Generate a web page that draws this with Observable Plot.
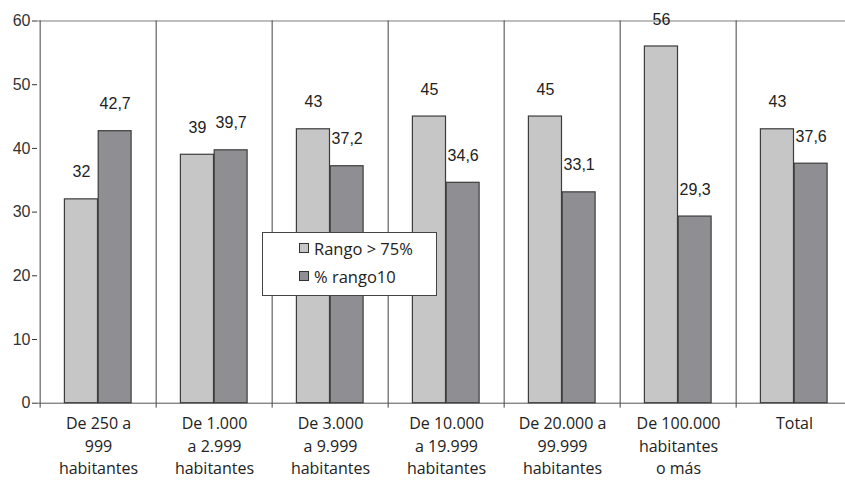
<!DOCTYPE html>
<html>
<head>
<meta charset="utf-8">
<script src="https://cdn.jsdelivr.net/npm/d3@7"></script>
<script src="https://cdn.jsdelivr.net/npm/@observablehq/plot@0.6"></script>
<style>
  body { margin: 0; background: #fff; }
  #wrap { position: relative; width: 845px; height: 481px; overflow: hidden; background: #fff; }
  #legend { position: absolute; left: 262px; top: 232px; width: 175px; height: 64px; box-sizing: border-box;
            border: 1px solid #444; background: #fff; font-family: "Open Sans", Lato, sans-serif; font-size: 16.5px; color: #222; }
  .item { position: absolute; left: 36px; display: flex; align-items: center; height: 14px; }
  .sw { width: 8px; height: 8px; border: 1px solid #333; margin-right: 5px; }
</style>
</head>
<body>
<div id="wrap"><div id="legend"></div></div>
<script>
const categories = ["250-999", "1000-2999", "3000-9999", "10000-19999", "20000-99999", "100000+", "Total"];
const tickLabels = [
  "De 250 a\n999\nhabitantes",
  "De 1.000\na 2.999\nhabitantes",
  "De 3.000\na 9.999\nhabitantes",
  "De 10.000\na 19.999\nhabitantes",
  "De 20.000 a\n99.999\nhabitantes",
  "De 100.000\nhabitantes\no más",
  "Total"
];
const rango75 = [32, 39, 43, 45, 45, 56, 43];
const rango10 = [42.7, 39.7, 37.2, 34.6, 33.1, 29.3, 37.6];
const seriesNames = ["Rango > 75%", "% rango10"];
const yTicks = [0, 10, 20, 30, 40, 50, 60];

const colors = ["#c6c6c6", "#8f8f93"];
const xRange = [37.3, 854.2];
const bw = (xRange[1] - xRange[0]) / categories.length;
const yRange = [402.7, 20.5];
const pxPerUnit = (yRange[0] - yRange[1]) / 60;
const fmt = d => String(d).replace(".", ",");

const d1 = categories.map((c, i) => ({cat: c, v: rango75[i]}));
const d2 = categories.map((c, i) => ({cat: c, v: rango10[i]}));

const chart = Plot.plot({
  width: 845,
  height: 481,
  marginLeft: 37, marginRight: 0, marginTop: 20, marginBottom: 78,
  style: {fontFamily: "'Liberation Sans', Arial, sans-serif", fontSize: "16px", color: "#222", background: "transparent"},
  x: {type: "band", domain: categories, range: xRange, padding: 0},
  y: {domain: [0, 60], range: yRange},
  marks: [
    Plot.ruleY([60], {stroke: "#a8a8a8", strokeWidth: 1.5}),
    Plot.ruleX(categories, {x: d => d, dx: -bw / 2, y1: -5 / pxPerUnit, y2: 60, stroke: "#444", strokeWidth: 1}),
    Plot.ruleY([0], {stroke: "#555", strokeWidth: 1}),
    Plot.barY(d1, {x: "cat", y: "v", fill: colors[0], stroke: "#3c3c3c", strokeWidth: 1.2, insetLeft: 24.4, insetRight: bw - 24.4 - 33.8}),
    Plot.barY(d2, {x: "cat", y: "v", fill: colors[1], stroke: "#3c3c3c", strokeWidth: 1.2, insetLeft: 24.4 + 33.8, insetRight: bw - 24.4 - 67.4}),
    Plot.text(d1, {x: "cat", y: "v", text: d => fmt(d.v), dx: -bw / 2 + 24.4 + 16.9, dy: -27, fill: "#222", fontSize: 16}),
    Plot.text(d2, {x: "cat", y: "v", text: d => fmt(d.v), dx: -bw / 2 + 24.4 + 50.6, dy: -27, fill: "#222", fontSize: 16}),
    Plot.axisY(yTicks, {tickSize: 5, tickPadding: 2, fontSize: 16, color: "#333", label: null}),
    Plot.axisX({tickSize: 0, tickPadding: 10, label: null, fontSize: 16, lineHeight: 1.4, color: "#222",
      fontFamily: "'Open Sans', Lato, sans-serif",
      tickFormat: d => tickLabels[categories.indexOf(d)]})
  ]
});
document.getElementById("wrap").prepend(chart);

const legend = document.getElementById("legend");
seriesNames.forEach((name, i) => {
  const item = document.createElement("div");
  item.className = "item";
  item.style.top = (i === 0 ? 8 : 36) + "px";
  const sw = document.createElement("div");
  sw.className = "sw";
  sw.style.background = colors[i];
  const t = document.createElement("span");
  t.textContent = name;
  item.append(sw, t);
  legend.append(item);
});
</script>
</body>
</html>
